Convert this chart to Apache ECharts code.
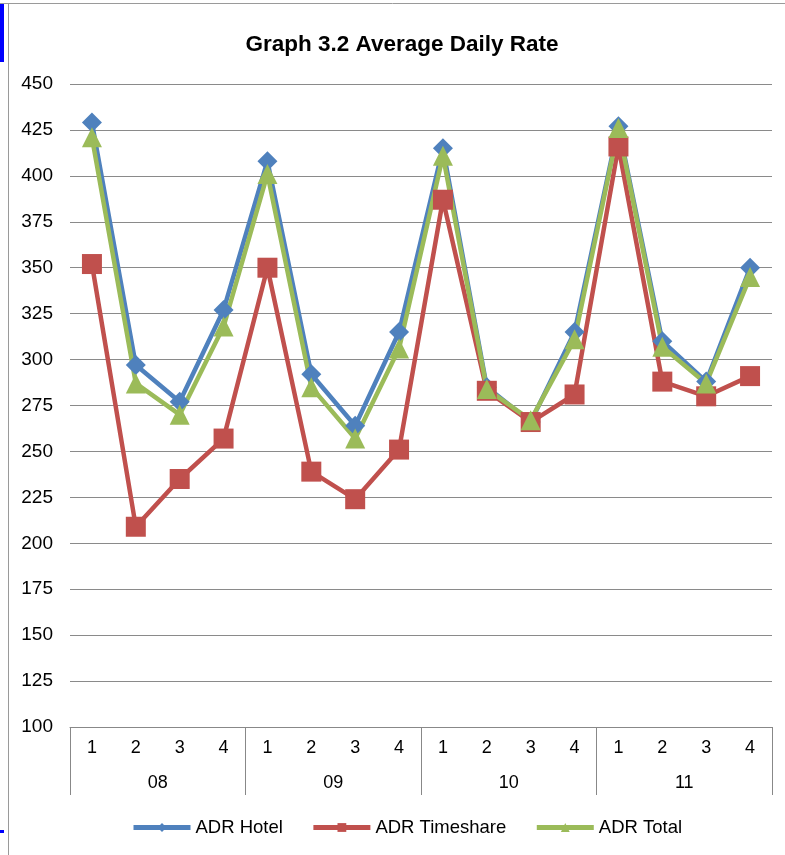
<!DOCTYPE html>
<html>
<head>
<meta charset="utf-8">
<script src="https://cdn.jsdelivr.net/npm/echarts@6/dist/echarts.min.js"></script>
<style>
html,body{margin:0;padding:0;background:#fff;}
#chart{width:785px;height:855px;}
</style>
</head>
<body>
<div id="chart"></div>
<script>
const quarters = ['1','2','3','4','1','2','3','4','1','2','3','4','1','2','3','4'];
const years = ['08','09','10','11'];
const adrHotel = [429, 297, 277, 327, 408, 292, 264, 315, 415, 285, 266, 315, 427, 310, 288, 350];
const adrTimeshare = [352, 209, 235, 257, 350, 239, 224, 251, 387, 283, 266, 281, 416, 288, 280, 291];
const adrTotal = [421, 287, 270, 318, 401, 285, 257, 306, 411, 284, 267, 311, 426, 307, 287, 345];
const yTicks = { min: 100, max: 450, interval: 25 };

const chart = echarts.init(document.getElementById('chart'));
const font = 'Liberation Sans, Arial, sans-serif';
chart.setOption({
  animation: false,
  backgroundColor: '#ffffff',
  title: {
    text: 'Graph 3.2 Average Daily Rate',
    left: 397,
    textAlign: 'center',
    top: 28,
    textStyle: { fontFamily: font, fontSize: 22.5, fontWeight: 'bold', color: '#000' }
  },
  graphic: [
    { type: 'line', shape: { x1: 0, y1: 3.5, x2: 785, y2: 3.5 }, style: { stroke: '#9a9a9a', lineWidth: 1 } },
    { type: 'line', shape: { x1: 8.5, y1: 3, x2: 8.5, y2: 855 }, style: { stroke: '#9a9a9a', lineWidth: 1 } },
    { type: 'rect', shape: { x: 0, y: 4, width: 4, height: 58 }, style: { fill: '#0000ff' } },
    { type: 'rect', shape: { x: 0, y: 830, width: 4, height: 3 }, style: { fill: '#0000ff' } }
  ],
  legend: {
    top: 813,
    left: 126,
    itemWidth: 57,
    itemHeight: 11,
    itemGap: 28,
    lineStyle: { width: 5 },
    textStyle: { fontFamily: font, fontSize: 18.5, color: '#000' },
    data: ['ADR Hotel', 'ADR Timeshare', 'ADR Total']
  },
  grid: { left: 70, right: 13, top: 84, bottom: 128, containLabel: false },
  xAxis: [
    {
      type: 'category',
      data: quarters,
      position: 'bottom',
      boundaryGap: true,
      axisLine: { show: true, lineStyle: { color: '#888', width: 1 } },
      axisTick: { show: false },
      axisLabel: { margin: 12, fontFamily: font, fontSize: 18, color: '#000' }
    },
    {
      type: 'category',
      data: years,
      position: 'bottom',
      boundaryGap: true,
      axisLine: { show: false },
      axisTick: { show: true, length: 68, lineStyle: { color: '#888', width: 1 } },
      axisLabel: { margin: 47, fontFamily: font, fontSize: 18, color: '#000' }
    }
  ],
  yAxis: {
    type: 'value',
    min: yTicks.min,
    max: yTicks.max,
    interval: yTicks.interval,
    axisLine: { show: false },
    axisTick: { show: false },
    axisLabel: { margin: 17, fontFamily: font, fontSize: 19, color: '#000' },
    splitLine: { lineStyle: { color: '#8a8a8a', width: 1.2 } }
  },
  series: [
    {
      name: 'ADR Hotel', type: 'line', data: adrHotel,
      symbol: 'diamond', symbolSize: 20,
      lineStyle: { width: 4.5, color: '#4F81BD' },
      itemStyle: { color: '#4F81BD' }
    },
    {
      name: 'ADR Timeshare', type: 'line', data: adrTimeshare,
      symbol: 'rect', symbolSize: 20,
      lineStyle: { width: 4.5, color: '#C0504D' },
      itemStyle: { color: '#C0504D' }
    },
    {
      name: 'ADR Total', type: 'line', data: adrTotal,
      symbol: 'triangle', symbolSize: 20,
      lineStyle: { width: 4.5, color: '#9BBB59' },
      itemStyle: { color: '#9BBB59' }
    }
  ]
});
</script>
</body>
</html>
